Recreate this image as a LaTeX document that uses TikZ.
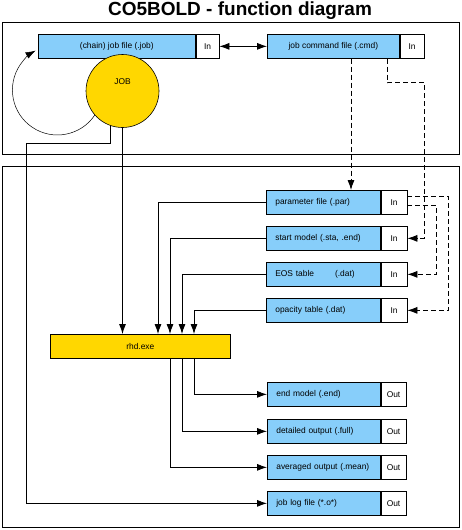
\documentclass[tikz,border=0pt]{standalone}
\usepackage{fontspec}
\setmainfont{Liberation Sans}
\usetikzlibrary{arrows.meta,calc}
\definecolor{fileblue}{HTML}{87CEFA}
\definecolor{jobgold}{HTML}{FFD700}
\begin{document}
\begin{tikzpicture}[x=1pt,y=-1pt,
  every node/.style={font=\fontsize{8.4}{10}\selectfont, inner sep=0pt},
  filebox/.style={draw, line width=0.7pt, fill=fileblue, minimum height=24pt, anchor=north west},
  tagbox/.style={draw, line width=0.7pt, fill=white, minimum height=24pt, anchor=north west},
  infile/.style={filebox, text width=96pt, inner xsep=9pt, align=left},
  outfile/.style={filebox, text width=95pt, inner xsep=9pt, align=left},
  frame/.style={draw, line width=0.8pt},
  link/.style={line width=0.8pt},
  dashlink/.style={line width=0.8pt, dash pattern=on 5pt off 3pt},
  tip/.style={-{Latex[length=10pt,width=7pt]}},
  dtip/.style={{Latex[length=10pt,width=7pt]}-{Latex[length=10pt,width=7pt]}}
]
\useasboundingbox (0,0) rectangle (462,530);
% title
\node[font=\fontsize{19}{22}\bfseries\selectfont] (title) at (240,11) {CO5BOLD - function diagram};
% frames
\path[frame] (2,22) rectangle (459,154);
\path[frame] (2,166) rectangle (459,527);
% top boxes
\node[filebox, minimum width=157pt] (job) at (38,34) {(chain) job file (.job)};
\node[tagbox, minimum width=23pt] (jobin) at (job.north east) {In};
\node[filebox, minimum width=132pt] (cmd) at (267,34) {job command file (.cmd)};
\node[tagbox, minimum width=24pt] (cmdin) at (cmd.north east) {In};
% JOB circle
\node[circle, draw, line width=0.6pt, fill=jobgold, minimum size=73pt] (jobc) at (122.5,91) {};
\node (joblbl) at (122.5,82) {JOB};
% input files
\node[infile] (par) at (266,190) {parameter file (.par)};
\node[tagbox, minimum width=26pt] (parin) at (par.north east) {In};
\node[infile] (sta) at (266,226) {start model (.sta, .end)};
\node[tagbox, minimum width=26pt] (stain) at (sta.north east) {In};
\node[infile] (eos) at (266,262) {EOS table\hspace{21pt}(.dat)};
\node[tagbox, minimum width=26pt] (eosin) at (eos.north east) {In};
\node[infile] (opa) at (266,298) {opacity table (.dat)};
\node[tagbox, minimum width=26pt] (opain) at (opa.north east) {In};
% rhd.exe
\node[draw, line width=0.7pt, fill=jobgold, minimum width=180pt, minimum height=24pt, anchor=north west] (rhd) at (50,334) {rhd.exe};
% output files
\node[outfile] (endm) at (267,382) {end model (.end)};
\node[tagbox, minimum width=25pt] (endmout) at (endm.north east) {Out};
\node[outfile] (full) at (267,419) {detailed output (.full)};
\node[tagbox, minimum width=25pt] (fullout) at (full.north east) {Out};
\node[outfile] (mean) at (267,455) {averaged output (.mean)};
\node[tagbox, minimum width=25pt] (meanout) at (mean.north east) {Out};
\node[outfile] (log) at (267,491) {job log file (*.o*)};
\node[tagbox, minimum width=25pt] (logout) at (log.north east) {Out};
% connectors
\draw[link, dtip] (jobin.east) -- (cmd.west);
\draw[line width=0.5pt, tip] (jobc.221) arc[start angle=34, end angle=241, radius=45];
\draw[link, tip] (jobc.250) |- (26,143) |- (log.west);
\draw[link, tip] (jobc.south) -- (jobc.south |- rhd.north);
\coordinate (r1) at ($(rhd.north west)+(108,0)$);
\coordinate (r2) at ($(rhd.north west)+(120,0)$);
\coordinate (r3) at ($(rhd.north west)+(132,0)$);
\coordinate (r4) at ($(rhd.north west)+(144,0)$);
\draw[link, tip] (par.west) -| (r1);
\draw[link, tip] (sta.west) -| (r2);
\draw[link, tip] (eos.west) -| (r3);
\draw[link, tip] (opa.west) -| (r4);
\coordinate (s1) at ($(rhd.south west)+(144,0)$);
\coordinate (s2) at ($(rhd.south west)+(132,0)$);
\coordinate (s3) at ($(rhd.south west)+(120,0)$);
\draw[link, tip] (s1) |- (endm.west);
\draw[link, tip] (s2) |- (full.west);
\draw[link, tip] (s3) |- (mean.west);
% dashed
\coordinate (c1) at ($(cmd.south west)+(84,0)$);
\coordinate (c2) at ($(cmd.south west)+(120,0)$);
\draw[dashlink, tip] (c1) -- (c1 |- par.north);
\draw[dashlink, tip] (c2) -- ++(0,24) -| ($(stain.east)+(17,0)$) -- (stain.east);
\coordinate (p1) at ($(parin.north east)+(0,6)$);
\coordinate (p2) at ($(parin.north east)+(0,15)$);
\draw[dashlink, tip] (p1) -- ++(41,0) |- (opain.east);
\draw[dashlink, tip] (p2) -- ++(29,0) |- (eosin.east);
\end{tikzpicture}
\end{document}
